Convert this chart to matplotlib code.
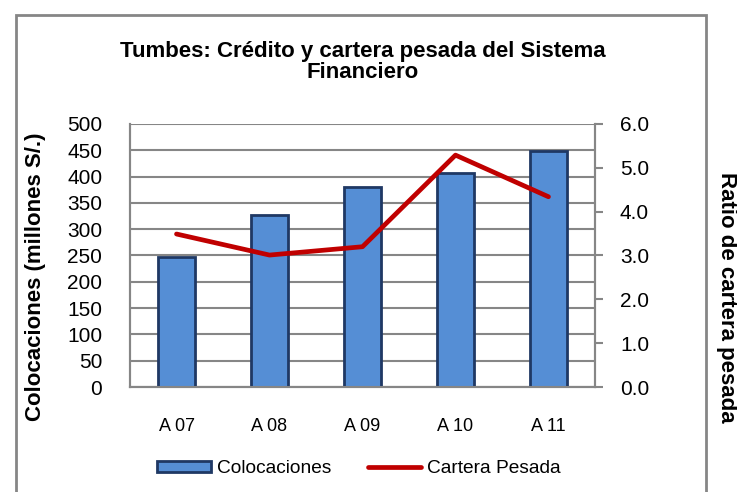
import numpy as np
import matplotlib.pyplot as plt
from matplotlib.patches import Rectangle

plt.rcParams['font.family'] = ['Liberation Sans', 'DejaVu Sans']

anios = ['A 07', 'A 08', 'A 09', 'A 10', 'A 11']
colocaciones = [248, 327, 380, 406, 449]
cartera_pesada = [3.49, 3.01, 3.20, 5.29, 4.34]

fig = plt.figure(figsize=(7.37, 4.92), dpi=100)
ax = fig.add_axes([0.1764, 0.2134, 0.6309, 0.5346])
ax2 = ax.twinx()

x = np.arange(len(anios))
barras = ax.bar(x, colocaciones, width=0.4, color='#558ED5', edgecolor='#1F3864',
                linewidth=2, label='Colocaciones', zorder=3)
linea, = ax2.plot(x, cartera_pesada, color='#C00000', linewidth=3.4,
                  solid_capstyle='round', label='Cartera Pesada', zorder=4)

ax.set_zorder(1)
ax2.set_zorder(2)
ax.patch.set_visible(False)

ax.set_xlim(-0.5, 4.5)
ax.set_ylim(0, 500)
ax.set_yticks(np.arange(0, 501, 50))
ax2.set_ylim(0, 6)
ax2.set_yticks(np.arange(0, 6.1, 1.0))
ax2.set_yticklabels([f'{v:.1f}' for v in np.arange(0, 6.1, 1.0)])

ax.grid(axis='y', color='#868686', linewidth=1.5, zorder=0)
ax.set_axisbelow(True)

for a in (ax, ax2):
    a.spines['top'].set_visible(False)
    for s in ('left', 'bottom', 'right'):
        a.spines[s].set_color('#868686')
        a.spines[s].set_linewidth(1.5)

ax.set_xticks(x)
ax.set_xticklabels(anios, fontsize=13)
ax.tick_params(axis='x', length=0, pad=22)
ax.tick_params(axis='y', length=0, labelsize=15, pad=20)
ax2.tick_params(axis='y', length=6, width=1.5, color='#868686', labelsize=15, pad=12)

# titulos de ejes (posicion como en Excel)
fig.text(36 / 737, 1 - 277 / 492, 'Colocaciones (millones S/.)', rotation=90,
         ha='center', va='center', fontsize=16, fontweight='bold')
fig.text(727 / 737, 1 - 297 / 492, 'Ratio de cartera pesada', rotation=-90,
         ha='center', va='center', fontsize=16, fontweight='bold')

fig.text(0.492, 0.875, 'Tumbes: Crédito y cartera pesada del Sistema\nFinanciero',
         ha='center', va='center', fontsize=16, fontweight='bold', linespacing=1.0)

fig.legend([barras, linea], ['Colocaciones', 'Cartera Pesada'], loc='center',
           bbox_to_anchor=(0.487, 0.048), ncol=2, frameon=False, fontsize=13.8,
           handlelength=2.8, handleheight=0.5, handletextpad=0.3, columnspacing=1.9)

fig.patches.append(Rectangle((16 / 737, -0.05), (706 - 16) / 737, 1.05 - 15 / 492,
                             transform=fig.transFigure, fill=False,
                             edgecolor='#868686', linewidth=2))

fig.savefig('out.png', dpi=100)
